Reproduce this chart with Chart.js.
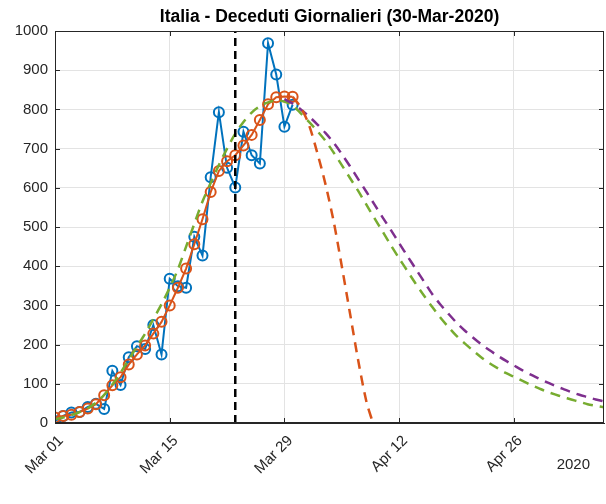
<!DOCTYPE html>
<html><head><meta charset="utf-8">
<script src="https://cdn.jsdelivr.net/npm/chart.js@4.4.1/dist/chart.umd.min.js"></script>
<style>html,body{margin:0;padding:0;background:#fff}#wrap{width:606px;height:504px}</style>
</head><body><div id="wrap"><canvas id="c" width="606" height="504"></canvas></div>
<script>
// ---- data (x = days since 2020-03-01) ----
const chartTitle = 'Italia - Deceduti Giornalieri (30-Mar-2020)';
const yearLabel = '2020';
const xTickDays = [0, 14, 28, 42, 56];
const xTickLabels = ['Mar 01', 'Mar 15', 'Mar 29', 'Apr 12', 'Apr 26'];
const xMinDay = 0;
const xMaxDay = 67;
const yTickStep = 100;
const yMax = 1000;
const cutoffDay = 22; // Mar 23

const obsDays = [0,1,2,3,4,5,6,7,8,9,10,11,12,13,14,15,16,17,18,19,20,21,22,23,24,25,26,27,28,29];
const dailyDeaths = [5,18,27,28,41,49,36,133,97,168,196,189,250,175,368,349,345,475,427,627,793,651,601,743,683,662,969,889,756,812];
const smoothedDeaths = [14,18,21,28,37,48,71,96,117,149,175,198,228,258,300,345,394,456,520,589,643,668,683,708,735,773,813,831,833,832];

const greenStartDay = 0;
const greenFit = [10,14,20,28,38,52,72,98,128,162,195,228,265,303,345,392,450,508,565,612,658,700,738,768,792,808,818,823,820,810,790,768,745,720,690,658,625,592,557,522,488,453,420,388,356,326,297,270,245,222,203,185,168,153,140,128,118,108,98,89,80,73,66,60,54,48,44,40];

const purpleStartDay = 28;
const purpleFit = [826,815,800,782,762,740,715,686,655,622,590,557,524,492,459,426,394,362,330,303,279,256,236,218,201,186,172,159,147,135,124,114,104,95,87,79,72,66,60,55];

const orangeFitDays = [29,30,31,32,33,34,35,36,37,38,38.8];
const orangeFit = [832,805,760,690,610,515,400,280,160,55,0];

// ---- styling ----
const C_BLUE = '#0072BD', C_ORANGE = '#D95319', C_GREEN = '#77AC30', C_PURPLE = '#7E2F8E';
const AX = '#262626';
const FONT = '"Liberation Sans", Arial, Helvetica, sans-serif';

const toXY = (xs, ys) => ys.map((y, i) => ({x: xs[i], y}));
const fromStart = (start, ys) => ys.map((y, i) => ({x: start + i, y}));

const frame = {
  id: 'frame',
  afterDatasetsDraw(chart) {
    const {ctx, chartArea: a, scales: {x, y}} = chart;
    ctx.save();
    ctx.strokeStyle = AX; ctx.lineWidth = 1;
    ctx.strokeRect(Math.round(a.left) + 0.5, Math.round(a.top) + 0.5, Math.round(a.right - a.left) - 1, Math.round(a.bottom - a.top) - 1);
    const tl = 5;
    ctx.beginPath();
    xTickDays.forEach(d => {
      const px = Math.round(x.getPixelForValue(d)) + 0.5;
      ctx.moveTo(px, a.bottom); ctx.lineTo(px, a.bottom - tl);
      ctx.moveTo(px, a.top); ctx.lineTo(px, a.top + tl);
    });
    for (let v = 0; v <= yMax; v += yTickStep) {
      const py = Math.round(y.getPixelForValue(v)) + 0.5;
      ctx.moveTo(a.left, py); ctx.lineTo(a.left + tl, py);
      ctx.moveTo(a.right, py); ctx.lineTo(a.right - tl, py);
    }
    ctx.stroke();
    ctx.fillStyle = '#000';
    ctx.font = 'bold 17.5px ' + FONT;
    ctx.textAlign = 'center'; ctx.textBaseline = 'middle';
    ctx.fillText(chartTitle, (a.left + a.right) / 2, 17);
    ctx.fillStyle = AX;
    ctx.font = '15px ' + FONT;
    ctx.textAlign = 'right';
    ctx.fillText(yearLabel, a.right - 14, 465);
    ctx.restore();
  }
};

new Chart(document.getElementById('c'), {
  type: 'line',
  data: {
    datasets: [
      {data: [{x: cutoffDay, y: 0}, {x: cutoffDay, y: yMax}], borderColor: '#000', borderWidth: 2.5, borderDash: [8, 5], pointRadius: 0, fill: false},
      {data: toXY(orangeFitDays, orangeFit), borderColor: C_ORANGE, borderWidth: 2.5, borderDash: [10, 7], pointRadius: 0, tension: 0.3, fill: false},
      {data: fromStart(purpleStartDay, purpleFit), borderColor: C_PURPLE, borderWidth: 2.5, borderDash: [10, 7], pointRadius: 0, tension: 0.3, fill: false},
      {data: fromStart(greenStartDay, greenFit), borderColor: C_GREEN, borderWidth: 2.5, borderDash: [10, 7], pointRadius: 0, tension: 0.3, fill: false},
      {data: toXY(obsDays, smoothedDeaths), borderColor: C_ORANGE, borderWidth: 2, pointRadius: 5, pointBorderWidth: 2, pointBackgroundColor: 'rgba(0,0,0,0)', pointBorderColor: C_ORANGE, fill: false},
      {data: toXY(obsDays, dailyDeaths), borderColor: C_BLUE, borderWidth: 2, pointRadius: 5, pointBorderWidth: 2, pointBackgroundColor: 'rgba(0,0,0,0)', pointBorderColor: C_BLUE, fill: false}
    ]
  },
  options: {
    responsive: false, animation: false, devicePixelRatio: 1,
    layout: {autoPadding: false, padding: {top: 31, right: 2, left: 0, bottom: 0}},
    plugins: {legend: {display: false}, tooltip: {enabled: false}, title: {display: false}},
    scales: {
      x: {
        type: 'linear', min: xMinDay, max: xMaxDay,
        afterBuildTicks: s => { s.ticks = xTickDays.map(v => ({value: v})); },
        afterFit: s => { s.height = 81; },
        ticks: {
          callback: v => xTickLabels[xTickDays.indexOf(v)],
          autoSkip: false, maxRotation: 45, minRotation: 45,
          color: AX, font: {family: FONT, size: 15}, padding: 9, labelOffset: 6
        },
        grid: {color: '#E3E3E3', drawTicks: false},
        border: {color: AX, width: 1}
      },
      y: {
        min: 0, max: yMax,
        afterFit: s => { s.width = 55; },
        ticks: {stepSize: yTickStep, callback: v => String(v), color: AX, font: {family: FONT, size: 15}, padding: 7},
        grid: {color: '#E3E3E3', drawTicks: false},
        border: {color: AX, width: 1}
      }
    }
  },
  plugins: [frame]
});
</script></body></html>
